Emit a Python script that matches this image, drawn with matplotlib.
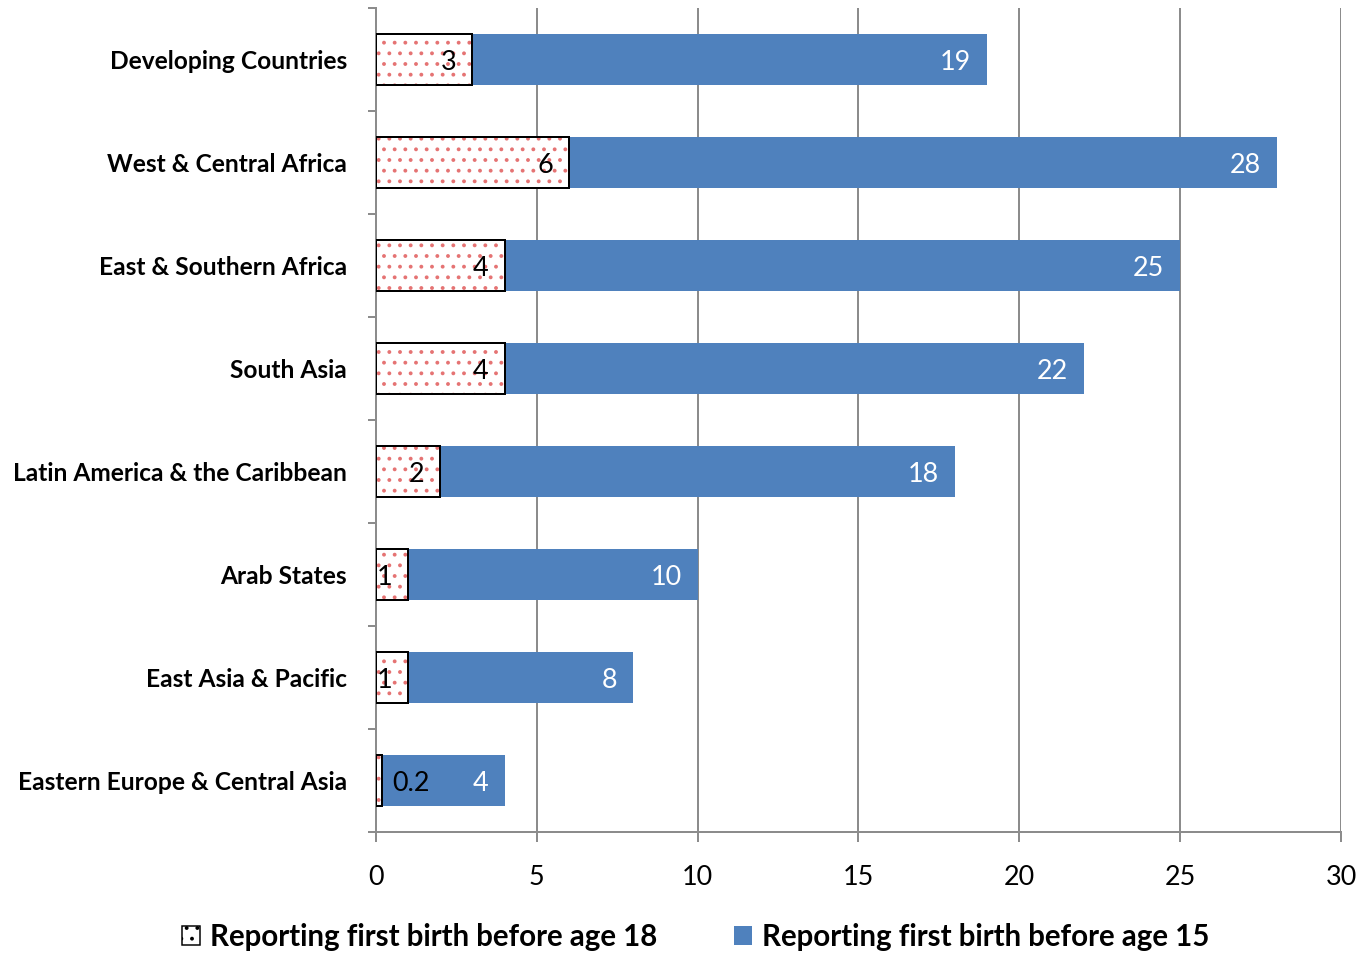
import matplotlib
matplotlib.use("Agg")
import matplotlib.pyplot as plt
from matplotlib.patches import Patch
from matplotlib.transforms import offset_copy

regions = [
    "Developing Countries",
    "West & Central Africa",
    "East & Southern Africa",
    "South Asia",
    "Latin America & the Caribbean",
    "Arab States",
    "East Asia & Pacific",
    "Eastern Europe & Central Asia",
]
before_18 = [3, 6, 4, 4, 2, 1, 1, 0.2]
before_15 = [19, 28, 25, 22, 18, 10, 8, 4]
x_ticks = [0, 5, 10, 15, 20, 25, 30]

BLUE = "#4F81BD"
DOT = "#E57373"
GRID = "#8C8C8C"
FONT = ["Lato", "DejaVu Sans"]

DPI = 128
W, H = 1364, 953


def pt(px):
    """Convert a size in pixels to points at the figure resolution."""
    return px * 72.0 / DPI


plt.rcParams["font.family"] = FONT
plt.rcParams["hatch.linewidth"] = pt(1.7)

fig = plt.figure(figsize=(W / DPI, H / DPI), dpi=DPI)
ax = fig.add_axes([376 / W, 1 - 832 / H, (1341 - 376) / W, (832 - 8) / H])

ypos = list(range(len(regions)))
h = 0.5

ax.barh(ypos, before_15, height=h, color=BLUE, zorder=2)
ax.barh(ypos, before_18, height=h, facecolor="white", edgecolor=DOT,
        hatch="..", linewidth=0, zorder=3)
ax.barh(ypos, before_18, height=h, facecolor="none", edgecolor="black",
        linewidth=pt(2.0), zorder=4)

label_px = 27
for y, v in zip(ypos, before_15):
    tr = offset_copy(ax.transData, fig=fig, x=-16, y=-3, units="dots")
    ax.text(v, y, f"{v:g}", transform=tr, ha="right", va="center",
            color="white", fontsize=pt(label_px), zorder=5)
for y, v in zip(ypos, before_18):
    if v < 0.5:
        tr = offset_copy(ax.transData, fig=fig, x=10, y=-3, units="dots")
        ha = "left"
    else:
        tr = offset_copy(ax.transData, fig=fig, x=-16, y=-3, units="dots")
        ha = "right"
    ax.text(v, y, f"{v:g}", transform=tr, ha=ha, va="center",
            color="black", fontsize=pt(label_px), zorder=5)

ax.set_xlim(0, 30)
ax.set_ylim(len(regions) - 0.5, -0.5)
ax.set_xticks(x_ticks)
ax.set_xticklabels([str(t) for t in x_ticks], fontsize=pt(27))
ax.tick_params(axis="x", length=pt(10), width=pt(2), color=GRID, pad=pt(23))

# category names centred on bars, boundary ticks between categories
ax.set_yticks(ypos)
ax.set_yticklabels(regions, fontsize=pt(24.5), fontweight="bold")
ax.tick_params(axis="y", length=0, pad=pt(29))
ax.set_yticks([i - 0.5 for i in range(len(regions) + 1)], minor=True)
ax.tick_params(axis="y", which="minor", length=pt(8), width=pt(2), color=GRID)

ax.grid(axis="x", color=GRID, linewidth=pt(2), zorder=0)
ax.set_axisbelow(True)
for s in ["top", "right"]:
    ax.spines[s].set_visible(False)
for s in ["left", "bottom"]:
    ax.spines[s].set_color(GRID)
    ax.spines[s].set_linewidth(pt(2))

handles = [
    Patch(facecolor="white", edgecolor=DOT, hatch="..", linewidth=0),
    Patch(facecolor=BLUE),
]
leg = fig.legend(handles, ["Reporting first birth before age 18",
                           "Reporting first birth before age 15"],
                 loc="center", bbox_to_anchor=(0.51, 0.017), ncol=2,
                 frameon=False,
                 prop={"size": pt(29.5), "weight": "bold", "family": FONT},
                 handlelength=0.6, handleheight=0.6, handletextpad=0.35,
                 columnspacing=2.6, borderpad=0.1)
leg.legend_handles[0].set_edgecolor("black")
leg.legend_handles[0].set_linewidth(pt(1.5))

fig.savefig("out.png", dpi=DPI)
